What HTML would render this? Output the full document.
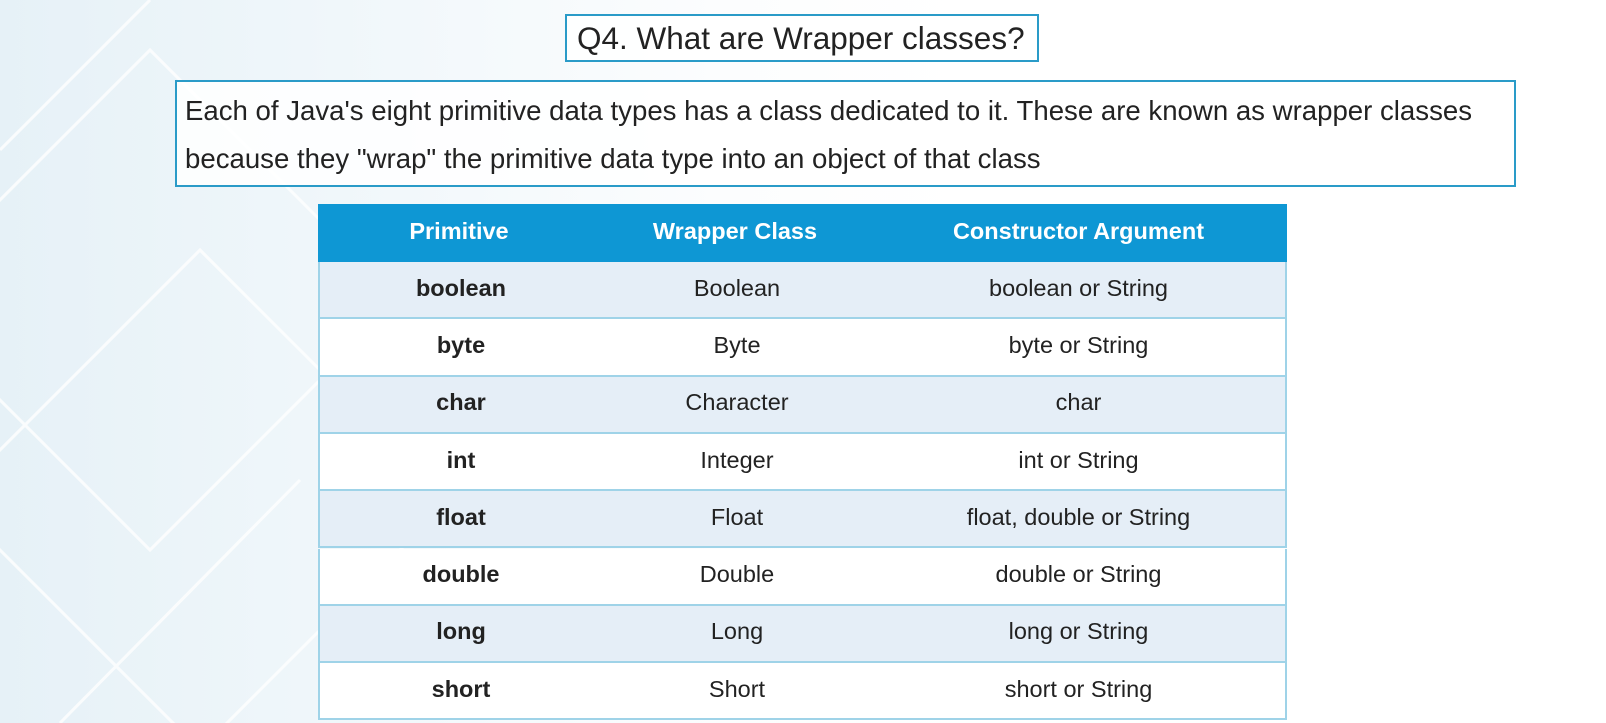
<!DOCTYPE html>
<html><head><meta charset="utf-8"><style>
body{margin:0;width:1606px;height:723px;overflow:hidden;position:relative;font-family:"Liberation Sans",sans-serif;
background:linear-gradient(90deg,#e6f1f7 0%,#f2f8fb 25%,#fcfdfe 45%,#ffffff 60%);}
.box{position:absolute;border:2px solid #2a9bc8;background:rgba(255,255,255,0.85);box-sizing:border-box;}
#t{left:565px;top:14px;width:474px;height:48px;font-size:31.5px;color:#222;line-height:44px;padding-left:10px;white-space:nowrap}
#d{left:175px;top:80px;width:1341px;height:107px;font-size:27.6px;color:#222;line-height:48px;padding:5px 0 0 8px;white-space:nowrap}
.tb{position:absolute;left:318px;width:969px;display:flex;font-size:23.5px;color:#222;box-sizing:border-box;align-items:center}
.tb div{text-align:center}
.tb div:nth-child(1){width:282px}.tb div:nth-child(2){width:270px}.tb div:nth-child(3){flex:1}
.h{top:204px;height:58px;background:#0e97d4;color:#fff;font-weight:bold;padding-bottom:4px}
.r{height:57.3px;border-left:2px solid #9fd3e8;border-right:2px solid #9fd3e8;border-bottom:2px solid #9fd3e8;padding-bottom:3px}
.r div:first-child{font-weight:bold}
.s{background:#e5eef7}.w{background:#fff}
</style></head><body>
<svg width="600" height="723" style="position:absolute;left:0;top:0" stroke="#ffffff" stroke-width="3" fill="none" opacity="0.8">
<path d="M-100 300 L150 50 L400 300 L150 550 Z"/><path d="M-50 500 L200 250 L450 500 L200 750 Z"/>
<path d="M0 150 L150 0 M60 723 L300 480"/>
</svg>
<div class="box" id="t">Q4. What are Wrapper classes?</div>
<div class="box" id="d">Each of Java's eight primitive data types has a class dedicated to it. These are known as wrapper classes<br>because they "wrap" the primitive data type into an object of that class</div>
<div class="tb h"><div>Primitive</div><div>Wrapper Class</div><div>Constructor Argument</div></div>
<div class="tb r s" style="top:262px"><div>boolean</div><div>Boolean</div><div>boolean or String</div></div>
<div class="tb r w" style="top:319.3px"><div>byte</div><div>Byte</div><div>byte or String</div></div>
<div class="tb r s" style="top:376.6px"><div>char</div><div>Character</div><div>char</div></div>
<div class="tb r w" style="top:433.9px"><div>int</div><div>Integer</div><div>int or String</div></div>
<div class="tb r s" style="top:491.2px"><div>float</div><div>Float</div><div>float, double or String</div></div>
<div class="tb r w" style="top:548.5px"><div>double</div><div>Double</div><div>double or String</div></div>
<div class="tb r s" style="top:605.8px"><div>long</div><div>Long</div><div>long or String</div></div>
<div class="tb r w" style="top:663.1px"><div>short</div><div>Short</div><div>short or String</div></div>
</body></html>
